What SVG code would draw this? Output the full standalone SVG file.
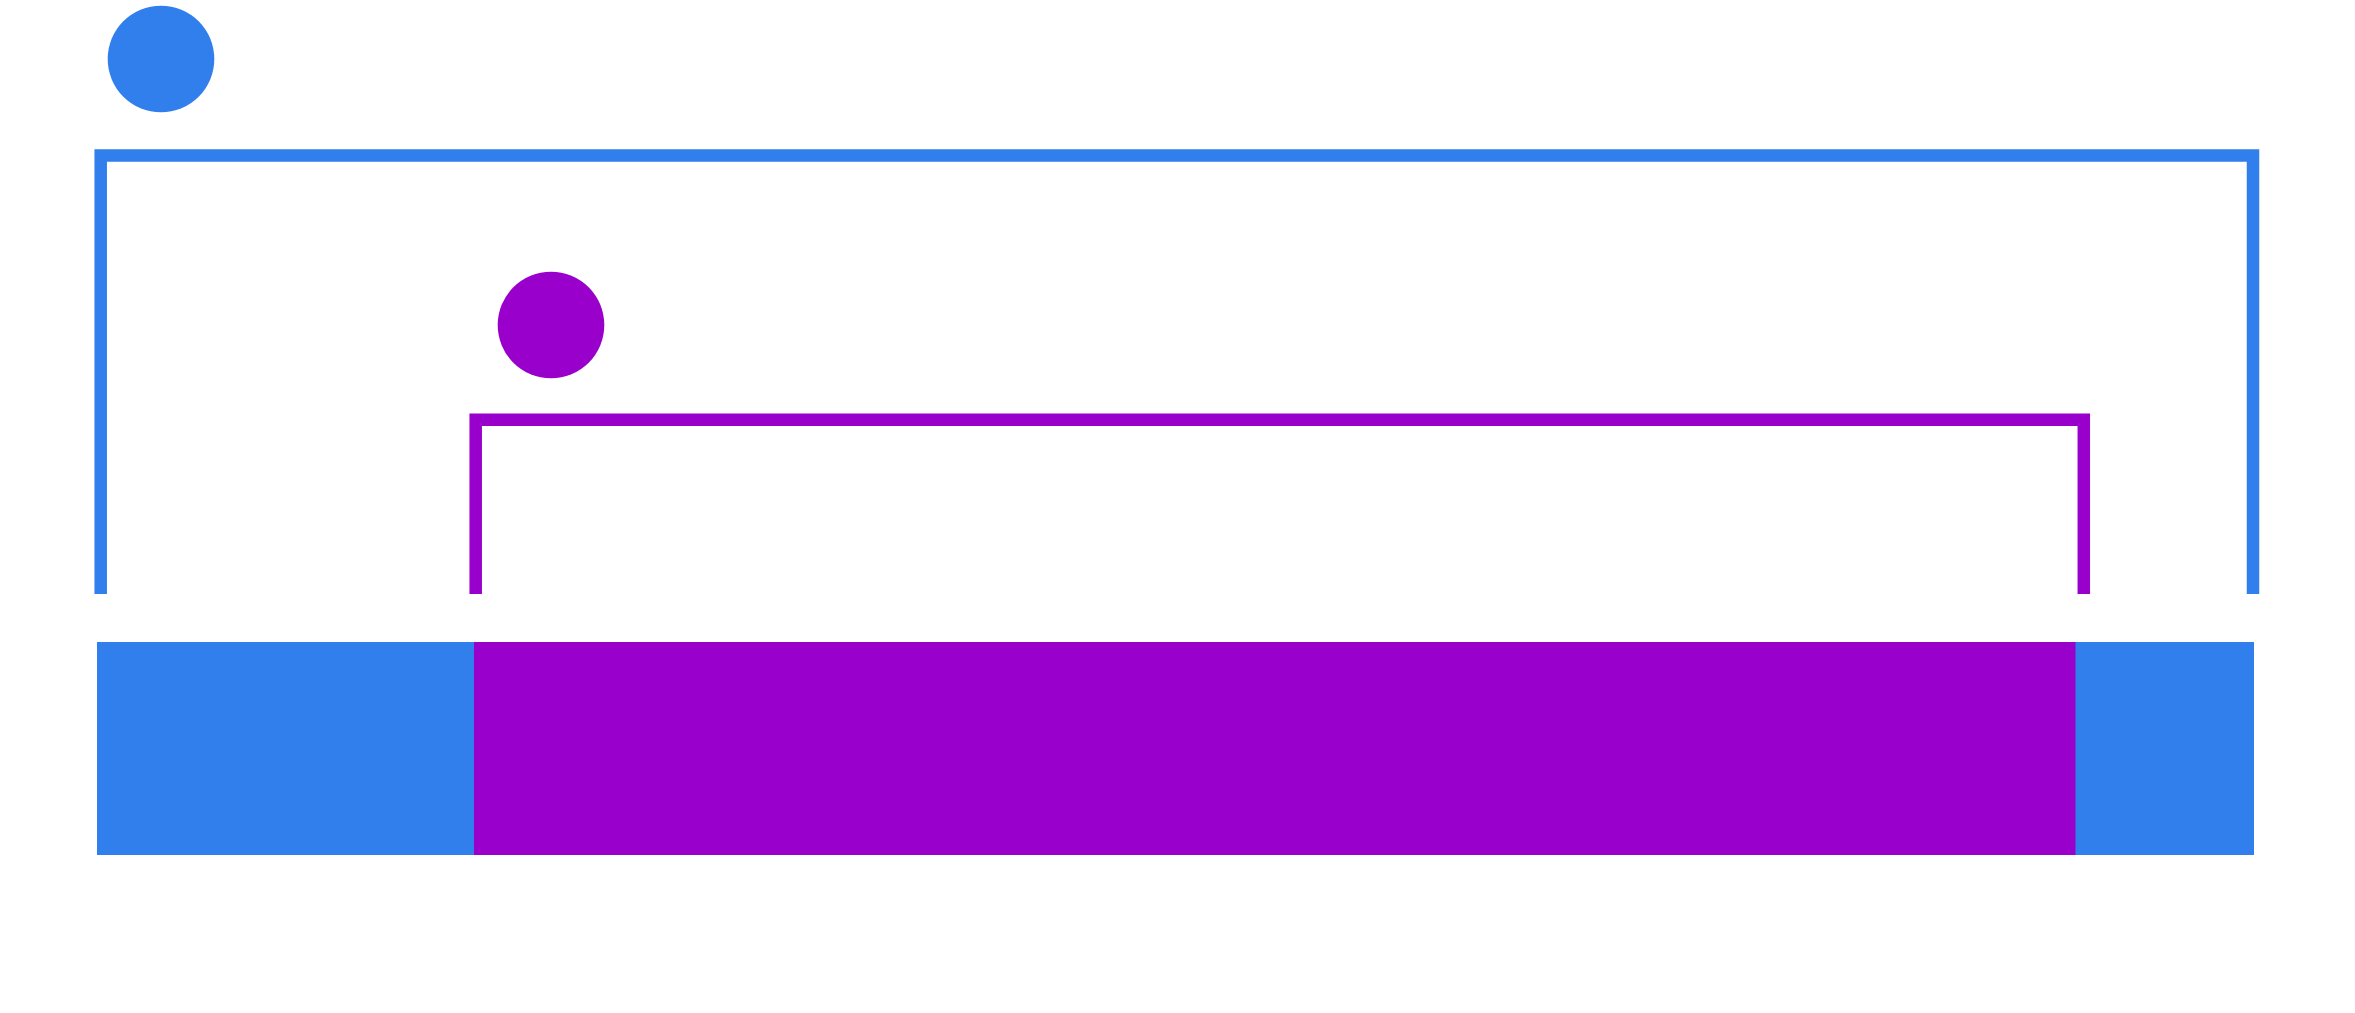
<svg xmlns="http://www.w3.org/2000/svg" width="2355" height="1013" viewBox="0 0 2355 1013">
<style>
.blue{fill:#317fed}
.purple{fill:#9900cc}
.bline{fill:none;stroke:#317fed;stroke-width:12.5}
.pline{fill:none;stroke:#9900cc;stroke-width:12.5}
</style>
<rect width="2355" height="1013" fill="#ffffff"/>
<g id="bar-blue"><rect class="blue" x="97" y="642" width="2157" height="213"/></g>
<g id="bar-purple"><rect class="purple" x="474" y="642" width="1601.5" height="213"/></g>
<g id="marker-blue"><circle class="blue" cx="161" cy="59" r="53.3"/></g>
<g id="marker-purple"><circle class="purple" cx="551" cy="325" r="53.3"/></g>
<g id="connectors">
<polyline class="bline" points="100.7,594 100.7,155.5 2253,155.5 2253,594"/>
<polyline class="pline" points="475.7,594 475.7,419.7 2083.8,419.7 2083.8,594"/>
</g>
</svg>
